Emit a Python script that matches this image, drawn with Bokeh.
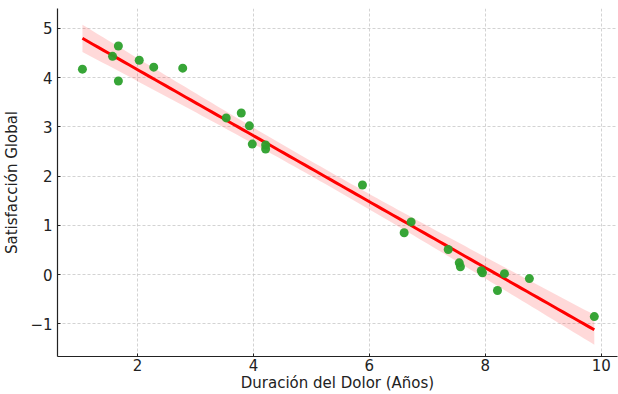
import numpy as np
from bokeh.plotting import figure
from bokeh.models import ColumnDataSource, Range1d, FixedTicker
from bokeh.embed import file_html
from bokeh.resources import INLINE

# Data
duracion = [1.05, 1.57, 1.67, 1.67, 2.03, 2.28, 2.78, 3.53, 3.79, 3.93, 3.98,
            4.21, 4.21, 5.88, 6.60, 6.72, 7.36, 7.55, 7.57, 7.93, 7.95, 8.21,
            8.33, 8.76, 9.88]
satisfaccion = [4.17, 4.43, 4.64, 3.93, 4.35, 4.21, 4.19, 3.18, 3.28, 3.02, 2.65,
                2.63, 2.55, 1.82, 0.85, 1.07, 0.51, 0.24, 0.16, 0.08, 0.04, -0.32,
                0.02, -0.08, -0.85]
x_ticks = [2, 4, 6, 8, 10]
y_ticks = [-1, 0, 1, 2, 3, 4, 5]

x = np.array(duracion)
y = np.array(satisfaccion)
n = len(x)
slope, intercept = np.polyfit(x, y, 1)
xs = np.linspace(x.min(), x.max(), 100)
ys = intercept + slope * xs
resid = y - (intercept + slope * x)
s = np.sqrt(np.sum(resid ** 2) / (n - 2))
sxx = np.sum((x - x.mean()) ** 2)
se = s * np.sqrt(1.0 / n + (xs - x.mean()) ** 2 / sxx)
tval = 2.07
band_src = ColumnDataSource(dict(x=xs, lower=ys - tval * se * 1.3, upper=ys + tval * se * 1.3))

p = figure(width=618, height=394, output_backend="svg", toolbar_location=None,
           x_range=Range1d(0.62, 10.28), y_range=Range1d(-1.66, 5.4),
           min_border_left=57, min_border_right=1, min_border_top=8, min_border_bottom=37)
p.outline_line_color = None
p.background_fill_color = "white"
p.border_fill_color = "white"

p.varea(x="x", y1="lower", y2="upper", source=band_src, fill_color="#ff0000", fill_alpha=0.15)
p.line(xs, ys, line_color="#ff0000", line_width=3)
p.scatter(duracion, satisfaccion, size=9, fill_color="#2ca02c", line_color=None, fill_alpha=0.95)

font = "DejaVu Sans"
for ax in (p.xaxis[0], p.yaxis[0]):
    ax.axis_line_color = "#222222"
    ax.axis_line_width = 1.2
    ax.major_tick_in = 3
    ax.major_tick_out = 0
    ax.minor_tick_line_color = None
    ax.major_tick_line_color = "#222222"
    ax.major_label_text_font = font
    ax.major_label_text_font_size = "15px"
    ax.major_label_text_color = "#222222"
    ax.axis_label_text_font = font
    ax.axis_label_text_font_size = "15px"
    ax.axis_label_text_font_style = "normal"
    ax.axis_label_text_color = "#222222"

p.xaxis.major_label_standoff = 2
p.xaxis.axis_label_standoff = 0
p.yaxis.major_label_standoff = 5
p.yaxis.axis_label_standoff = 6

p.xaxis.ticker = FixedTicker(ticks=x_ticks)
p.yaxis.ticker = FixedTicker(ticks=y_ticks)
p.yaxis.major_label_overrides = {-1: "\u22121"}
p.xaxis.axis_label = "Duración del Dolor (Años)"
p.yaxis.axis_label = "Satisfacción Global"

for g in (p.xgrid[0], p.ygrid[0]):
    g.grid_line_color = "#c8c8c8"
    g.grid_line_dash = "3 2"
    g.grid_line_width = 0.8

open("out.html", "w").write(file_html(p, INLINE))
